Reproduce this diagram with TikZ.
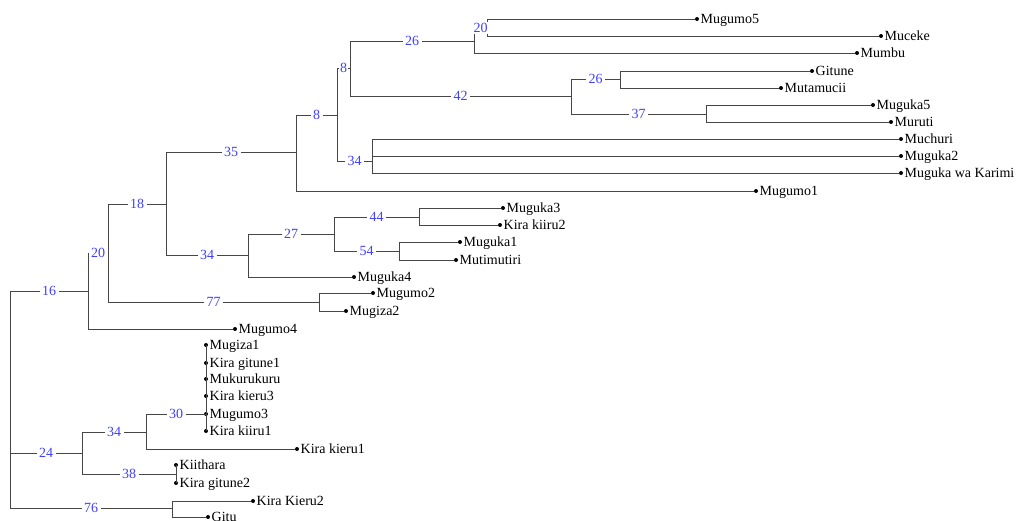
\documentclass[tikz,border=0pt]{standalone}
\usepackage{fontspec}
\setmainfont{Liberation Serif}
\definecolor{numblue}{RGB}{64,64,255}
\definecolor{brgray}{RGB}{70,70,70}
\tikzset{
  br/.style={draw=brgray, line width=0.8pt},
  num/.style={text=numblue, fill=white, inner xsep=2.5pt, inner ysep=1pt, font=\fontsize{14}{16}\selectfont},
  dot/.style={circle, fill=black, minimum size=4pt, inner sep=0pt},
  tx/.style={anchor=base west, inner sep=0pt, font=\fontsize{14}{16}\selectfont}
}
\newcommand{\leaf}[4]{%
  \node[dot] (#1) at (#2,#3) {};
  \node[tx] (#1-t) at ([xshift=3.5pt,yshift=-4.5pt]#1.center) {#4};
}
\begin{document}
\begin{tikzpicture}[x=1pt,y=-1pt]
\useasboundingbox (0,0) rectangle (1017,520);
% internal nodes
\coordinate (R) at (10,400);
\coordinate (n16) at (88,291);
\coordinate (n20) at (108,253);
\coordinate (n18) at (166,204);
\coordinate (n77) at (319,302);
\coordinate (n35) at (296,152);
\coordinate (n34a) at (248,255);
\coordinate (n27) at (334,234);
\coordinate (n44) at (419,217);
\coordinate (n54) at (399,251);
\coordinate (n8a) at (337,115);
\coordinate (n8b) at (350,68);
\coordinate (n34b) at (372,161);
\coordinate (n26a) at (474,41);
\coordinate (n20b) at (487,28);
\coordinate (n42) at (571,96);
\coordinate (n26b) at (620,79);
\coordinate (n37) at (706,114);
\coordinate (n24) at (82,453);
\coordinate (n34c) at (146,432);
\coordinate (n30) at (206,414);
\coordinate (n38) at (176,474);
\coordinate (n76) at (172,508);
% leaves
\leaf{mugumo5}{697}{19}{Mugumo5}
\leaf{muceke}{881}{36}{Muceke}
\leaf{mumbu}{857}{53}{Mumbu}
\leaf{gitune}{812}{71}{Gitune}
\leaf{mutamucii}{781}{88}{Mutamucii}
\leaf{muguka5}{873}{105}{Muguka5}
\leaf{muruti}{891}{122}{Muruti}
\leaf{muchuri}{901}{139}{Muchuri}
\leaf{muguka2}{901}{156}{Muguka2}
\leaf{mugukawk}{901}{173}{Muguka wa Karimi}
\leaf{mugumo1}{756}{191}{Mugumo1}
\leaf{muguka3}{503}{208}{Muguka3}
\leaf{kirakiiru2}{500}{225}{Kira kiiru2}
\leaf{muguka1}{460}{242}{Muguka1}
\leaf{mutimutiri}{456}{260}{Mutimutiri}
\leaf{muguka4}{354}{277}{Muguka4}
\leaf{mugumo2}{373}{293}{Mugumo2}
\leaf{mugiza2}{346}{311}{Mugiza2}
\leaf{mugumo4}{235}{329}{Mugumo4}
\leaf{mugiza1}{206}{345}{Mugiza1}
\leaf{kiragitune1}{206}{363}{Kira gitune1}
\leaf{mukurukuru}{206}{379}{Mukurukuru}
\leaf{kirakieru3}{206}{396}{Kira kieru3}
\leaf{mugumo3}{206}{414}{Mugumo3}
\leaf{kirakiiru1}{206}{431}{Kira kiiru1}
\leaf{kirakieru1}{297}{449}{Kira kieru1}
\leaf{kiithara}{176}{465}{Kiithara}
\leaf{kiragitune2}{176}{483}{Kira gitune2}
\leaf{kirakieru2}{253}{501}{Kira Kieru2}
\leaf{gitu}{208}{517}{Gitu}
% branches to leaves
\draw[br] (n20b) |- (mugumo5);
\draw[br] (n20b) |- (muceke);
\draw[br] (n26a) |- (mumbu);
\draw[br] (n26b) |- (gitune);
\draw[br] (n26b) |- (mutamucii);
\draw[br] (n37) |- (muguka5);
\draw[br] (n37) |- (muruti);
\draw[br] (n34b) |- (muchuri);
\draw[br] (n34b) |- (muguka2);
\draw[br] (n34b) |- (mugukawk);
\draw[br] (n35) |- (mugumo1);
\draw[br] (n44) |- (muguka3);
\draw[br] (n44) |- (kirakiiru2);
\draw[br] (n54) |- (muguka1);
\draw[br] (n54) |- (mutimutiri);
\draw[br] (n34a) |- (muguka4);
\draw[br] (n77) |- (mugumo2);
\draw[br] (n77) |- (mugiza2);
\draw[br] (n16) |- (mugumo4);
\draw[br] (n30) |- (mugiza1);
\draw[br] (n30) |- (kiragitune1);
\draw[br] (n30) |- (mukurukuru);
\draw[br] (n30) |- (kirakieru3);
\draw[br] (n30) |- (mugumo3);
\draw[br] (n30) |- (kirakiiru1);
\draw[br] (n34c) |- (kirakieru1);
\draw[br] (n38) |- (kiithara);
\draw[br] (n38) |- (kiragitune2);
\draw[br] (n76) |- (kirakieru2);
\draw[br] (n76) |- (gitu);
% internal branches with support values
\draw[br] (R) |- node[num,pos=0.75]{16} (n16);
\draw[br] (R) |- node[num,pos=0.75]{24} (n24);
\draw[br] (R) |- node[num,pos=0.75]{76} (n76);
\draw[br] (n16) |- node[num,pos=0.75]{20} (n20);
\draw[br] (n20) |- node[num,pos=0.75]{18} (n18);
\draw[br] (n20) |- node[num,pos=0.75]{77} (n77);
\draw[br] (n18) |- node[num,pos=0.75]{35} (n35);
\draw[br] (n18) |- node[num,pos=0.75]{34} (n34a);
\draw[br] (n34a) |- node[num,pos=0.75]{27} (n27);
\draw[br] (n27) |- node[num,pos=0.75]{44} (n44);
\draw[br] (n27) |- node[num,pos=0.75]{54} (n54);
\draw[br] (n35) |- node[num,pos=0.75]{8} (n8a);
\draw[br] (n8a) |- node[num,pos=0.75,inner xsep=1pt]{8} (n8b);
\draw[br] (n8a) |- node[num,pos=0.75]{34} (n34b);
\draw[br] (n8b) |- node[num,pos=0.75]{26} (n26a);
\draw[br] (n8b) |- node[num,pos=0.75]{42} (n42);
\draw[br] (n26a) |- node[num,pos=0.75,inner xsep=0.5pt]{20} (n20b);
\draw[br] (n42) |- node[num,pos=0.75]{26} (n26b);
\draw[br] (n42) |- node[num,pos=0.75]{37} (n37);
\draw[br] (n24) |- node[num,pos=0.75]{34} (n34c);
\draw[br] (n24) |- node[num,pos=0.75]{38} (n38);
\draw[br] (n34c) |- node[num,pos=0.75]{30} (n30);
\end{tikzpicture}
\end{document}
